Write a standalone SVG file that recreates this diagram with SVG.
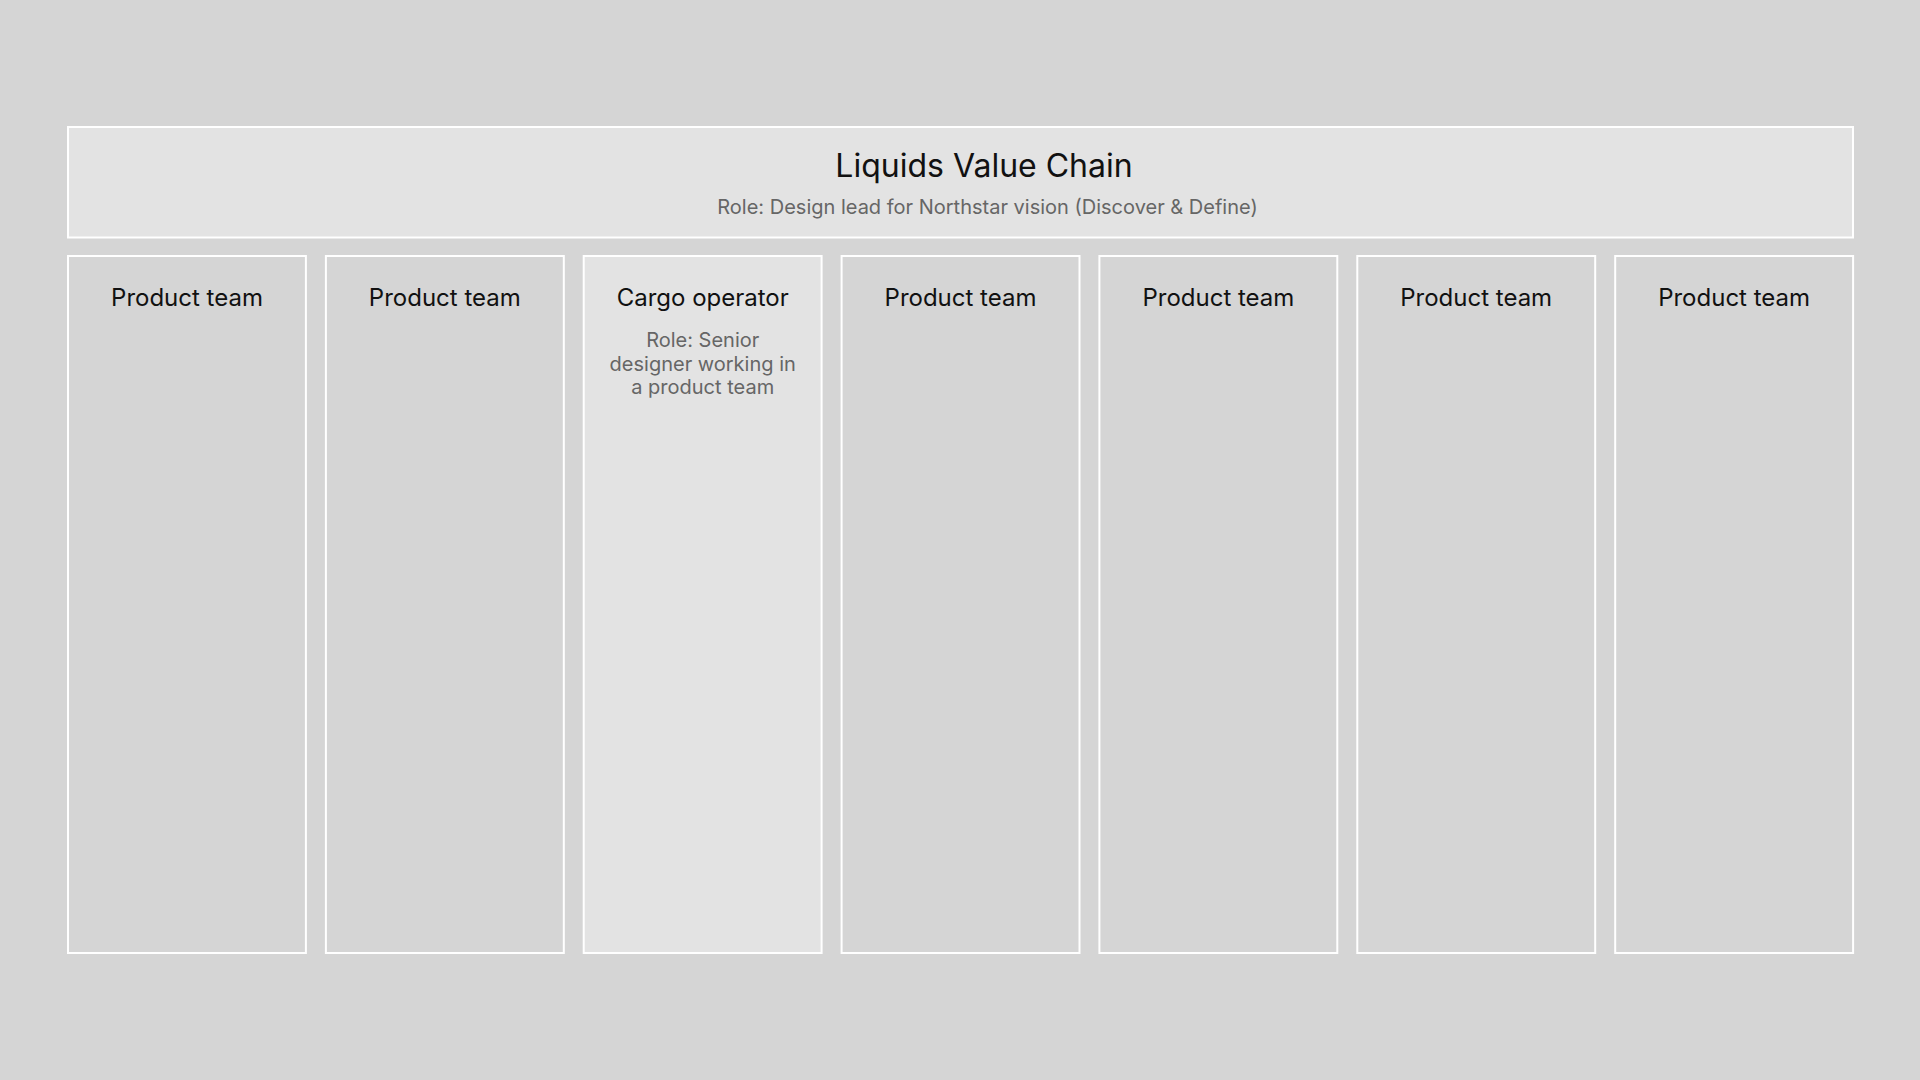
<svg xmlns="http://www.w3.org/2000/svg" width="1920" height="1080" viewBox="0 0 1920 1080">
<style>
.box{stroke:#ffffff;stroke-width:2;fill:#d5d5d5}
.hi{fill:#e3e3e3}
.t{font-family:Inter,"Noto Sans",sans-serif;fill:#111111;text-anchor:middle}
.s{font-family:Inter,"Noto Sans",sans-serif;fill:#666666;text-anchor:middle}
</style>
<rect x="0" y="0" width="1920" height="1080" fill="#d5d5d5"/>
<g id="header">
<rect class="box hi" x="68" y="127" width="1785" height="110.5"/>
<text class="t" x="984" y="176.5" font-size="32">Liquids Value Chain</text>
<text class="s" x="987.5" y="214" font-size="20">Role: Design lead for Northstar vision (Discover &amp; Define)</text>
</g>
<g id="col1">
<rect class="box" x="68" y="256" width="237.9" height="697"/>
<text class="t" x="187" y="305.5" font-size="24">Product team</text>
</g>
<g id="col2">
<rect class="box" x="325.9" y="256" width="237.9" height="697"/>
<text class="t" x="444.8" y="305.5" font-size="24">Product team</text>
</g>
<g id="col3">
<rect class="box hi" x="583.7" y="256" width="237.9" height="697"/>
<text class="t" x="702.7" y="305.5" font-size="24">Cargo operator</text>
<text class="s" x="702.7" y="347" font-size="20">Role: Senior</text>
<text class="s" x="702.7" y="370.5" font-size="20">designer working in</text>
<text class="s" x="702.7" y="394" font-size="20">a product team</text>
</g>
<g id="col4">
<rect class="box" x="841.6" y="256" width="237.9" height="697"/>
<text class="t" x="960.5" y="305.5" font-size="24">Product team</text>
</g>
<g id="col5">
<rect class="box" x="1099.4" y="256" width="237.9" height="697"/>
<text class="t" x="1218.4" y="305.5" font-size="24">Product team</text>
</g>
<g id="col6">
<rect class="box" x="1357.3" y="256" width="237.9" height="697"/>
<text class="t" x="1476.2" y="305.5" font-size="24">Product team</text>
</g>
<g id="col7">
<rect class="box" x="1615.2" y="256" width="237.9" height="697"/>
<text class="t" x="1734.1" y="305.5" font-size="24">Product team</text>
</g>
<g id="connectors"></g>
</svg>
